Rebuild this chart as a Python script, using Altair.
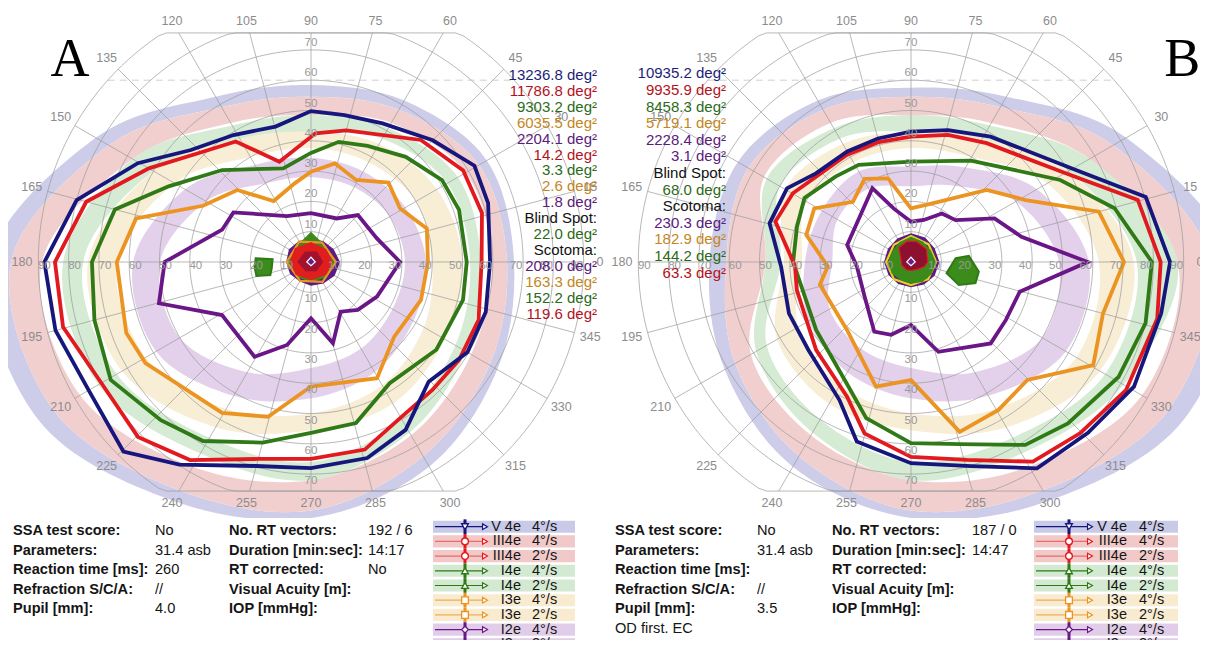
import altair as alt
import pandas as pd

FONT = "Liberation Sans"
SERIF = "Liberation Serif"
PX = 3.03                  # pixels per degree of eccentricity
CX, CY = 303.0, 254.0      # fixation point inside each polar view (px)
W_A, W_B = 600, 592
H_TOP, H_BOT = 510, 122
CLIP_Y = 75.6              # top/bottom edge of the perimeter grid (deg)
LAB_R, LAB_Y = 95.4, 79.5  # angle-label ring / clipped label height (deg)
YD = [-(H_TOP - CY) / PX, CY / PX]


def xdom(w):
    return [-CX / PX, (w - CX) / PX]


XD_A, XD_B = xdom(W_A), xdom(W_B)

NAVY, RED, GREEN, ORANGE, PURPLE = "#16167c", "#e2191e", "#2f7a16", "#eb9422", "#6a1686"
ISO_NAMES = ["I2e", "I3e", "I4e", "III4e", "V4e"]
ISO_COLORS = [PURPLE, ORANGE, GREEN, RED, NAVY]
T_NAVY, T_RED, T_GREEN, T_ORANGE, T_PURPLE, T_BLACK = (
    "#1e1e78", "#b3121b", "#2b6b18", "#c4861c", "#5b1c7b", "#111111")

BAND_NAMES = ["V4e", "III4e", "I4e", "I3e", "I2e"]
BAND_COLORS = ["#cdcdea", "#f2cfcf", "#d5ebd3", "#f8edd5", "#e3d1eb"]
BAND_ANG = [0, 30, 60, 90, 120, 150, 180, 210, 240, 270, 300, 330]

GRID_R = [10, 20, 30, 40, 50, 60, 70, 80, 90]
SPOKES = list(range(0, 360, 15))
ECC_H = [10, 20, 30, 40, 50, 60, 70, 80, 90]
ECC_V = [10, 20, 30, 40, 50, 60, 70]

# ---------------- panel A (left eye) ----------------
A_BAND_IN = {
    "V4e":   [64.7, 64, 58, 54.5, 59, 77, 99, 98, 87, 82, 74, 68],
    "III4e": [59.7, 59, 53, 48.5, 53, 68, 88.8, 88, 78, 72, 66, 61],
    "I4e":   [52.5, 52, 47, 43, 46, 60, 75.2, 74, 67, 66, 60, 55],
    "I3e":   [40, 40, 38, 37.6, 40, 52, 64, 63, 56, 50, 47, 43],
    "I2e":   [31, 30, 28.5, 28, 30, 40, 49.8, 50, 42, 35, 33, 31],
}
A_BAND_OUT = {
    "V4e":   [67, 67, 61.5, 58.4, 63, 82, 106, 104, 91, 84.5, 78, 71],
    "III4e": [64.7, 64, 58, 54.5, 59, 77, 99, 98, 87, 82, 74, 68],
    "I4e":   [56, 56, 51, 48.5, 52, 68, 81.8, 81, 73, 72, 65, 59],
    "I3e":   [50, 48, 45, 43, 47, 60, 73.6, 72, 63, 55.5, 54, 51],
    "I2e":   [38, 36, 34.5, 34.4, 37, 48, 58.7, 59, 51, 45, 42, 39],
}
A_ISO = {
    "V4e": ([0, 18.4, 30.5, 45, 62.7, 77.2, 90, 104.7, 121.4, 137, 150.3, 165.2, 180, 195, 210,
             225.3, 237, 255, 270, 286, 299.4, 314.5, 330, 344],
            [59.1, 61.6, 62.6, 56.8, 51.5, 49.7, 49.8, 46.2, 49.1, 54.2, 65.8, 80, 88, 87.3, 84.7,
             88, 79.7, 69.7, 68, 67.3, 63.6, 55.4, 59.6, 60]),
    "III4e": ([0, 16, 31, 48, 75, 88, 107.5, 122, 135.8, 150, 165, 180, 194.7, 210, 225.3, 238.6,
               255, 270, 286, 299, 313.5, 326.5, 341],
              [56.3, 58.7, 58.6, 54.2, 45, 42.5, 34.7, 46.9, 51.6, 61.8, 76.8, 84.5, 84.6, 79.9,
               81.2, 76.6, 67.3, 65, 64.4, 59.5, 58.2, 58.6, 58.5]),
    "I4e": ([0, 19.4, 32, 48, 64, 77, 90, 106.5, 134, 152, 165, 180, 195, 210.5, 226.5, 238.9,
             255, 270, 285.6, 303, 325, 346],
            [51.4, 51.8, 51, 46.7, 42.6, 40.7, 36, 32.2, 42.2, 53.2, 67, 72.3, 74, 76.7, 72, 69,
             61.7, 56.4, 55.2, 47.7, 50.5, 51.7]),
    "I3e": ([0, 16.2, 31, 45.7, 61.2, 76.4, 90, 101.7, 121.5, 135.7, 152.5, 166, 180, 201, 211.4,
             239.5, 254.5, 270, 299.6, 318, 341],
            [38.6, 39.8, 34.3, 36.6, 30.9, 33.5, 29.8, 26.5, 23.6, 34, 40.2, 59.5, 64.1, 65.3, 64,
             57.8, 53, 41.1, 44.1, 36.9, 38.4]),
    "I2e": ([0, 19.7, 45, 59.4, 90, 117.5, 147.4, 160, 180, 195.2, 210.8, 239.2, 253.9, 270,
             285.1, 300.8, 314.3, 332.3],
            [29.4, 23.1, 21.9, 16.7, 16.1, 17.1, 30.4, 31.2, 48.3, 52, 34.2, 36.4, 28.5, 18.6,
             27.8, 19.1, 22.1, 24.6]),
}
A_BLIND = ([176.2, 175.9, 188.7, 197.8, 194.3, 184.9], [18.3, 12.7, 13.1, 14.1, 18.6, 18.7])
A_CENTER = [
    ("#5c1a82", None, [0, 30, 60, 90, 120, 150, 180, 210, 240, 270, 300, 330],
     [9.6, 8.6, 8.0, 7.6, 8.0, 8.4, 8.2, 8.0, 7.4, 7.8, 8.2, 9.0]),
    ("#3b8a1c", None, [0, 45, 80, 90, 100, 135, 180, 225, 270, 315],
     [8.0, 7.2, 8.6, 10, 8.6, 7.2, 7.6, 7.0, 6.6, 7.2]),
    (None, ORANGE, [0, 60, 120, 180, 240, 300], [8.2, 7.4, 7.8, 8.0, 7.2, 7.6]),
    ("#e11d1d", None, [0, 40, 90, 140, 180, 220, 270, 320], [7.2, 6.6, 6.6, 7.0, 7.0, 6.6, 6.0, 6.6]),
    ("#a0122e", None, [0, 60, 120, 180, 240, 300], [4.0, 4.0, 4.0, 4.5, 3.5, 3.5]),
    ("#6a1a8a", "white", [0, 90, 180, 270], [1.4, 1.6, 1.4, 1.2]),
]
A_NOTES = ["13236.8 deg²", "11786.8 deg²", "9303.2 deg²", "6035.5 deg²", "2204.1 deg²",
           "14.2 deg²", "3.3 deg²", "2.6 deg²", "1.8 deg²", "Blind Spot:", "22.0 deg²",
           "Scotoma:", "208.0 deg²", "163.3 deg²", "152.2 deg²", "119.6 deg²"]
A_NOTE_COL = [T_NAVY, T_RED, T_GREEN, T_ORANGE, T_PURPLE, T_RED, T_GREEN, T_ORANGE, T_PURPLE,
              T_BLACK, T_GREEN, T_BLACK, T_PURPLE, T_ORANGE, T_GREEN, T_RED]

# ---------------- panel B (right eye) ----------------
B_BAND_IN = {
    "V4e":   [99, 77, 59, 54.5, 58, 62, 61, 67, 74, 82, 87, 98],
    "III4e": [88, 68, 53, 48.5, 53, 56, 48, 61, 66, 72, 78, 88],
    "I4e":   [74.5, 60, 46, 43, 47, 50, 43, 55, 60, 66, 67, 74],
    "I3e":   [62, 52, 40, 37.6, 38, 40, 36, 43, 47, 50, 56, 63],
    "I2e":   [48.8, 40, 29, 25, 28, 28, 26, 31, 33, 35, 42, 50],
}
B_BAND_OUT = {
    "V4e":   [106, 82, 63, 57.5, 61.5, 66, 66.5, 71, 78, 84.5, 91, 104],
    "III4e": [99, 77, 59, 54.5, 58, 62, 61, 67, 74, 82, 87, 98],
    "I4e":   [88, 68, 52, 48.5, 51, 55, 48, 59, 65, 72, 73, 81],
    "I3e":   [73.5, 60, 47, 43, 45, 48, 42, 51, 54, 55.5, 63, 72],
    "I2e":   [58.7, 48, 36, 31.5, 34.5, 34, 35, 39, 42, 45, 51, 59],
}
B_ISO = {
    "V4e": ([0, 15.5, 30, 57.6, 74.3, 90, 105, 120, 137, 149.3, 164.7, 182, 202.8, 220.6, 242.6,
             253.2, 270, 286.4, 301.4, 316, 330.8, 348.4],
            [85.5, 80.4, 61.6, 49, 45.2, 43, 42.2, 42.1, 42.9, 47.6, 48.4, 42.9, 43.7, 44.6, 51.3,
             61.9, 66.4, 70.2, 79.8, 81.2, 84.3, 84.3]),
    "III4e": ([0, 15.3, 30, 57.5, 73.8, 90, 105, 121, 149.8, 163.4, 182, 193.8, 222.8, 244.6,
               254.8, 270, 285.8, 301.4, 314.6, 329.2, 347],
              [82.4, 77.6, 58.7, 46.5, 43.7, 41.4, 41, 41.2, 45.1, 46.7, 38.3, 38.8, 42.7, 49.2,
               58.6, 64.3, 67.9, 77.2, 79.4, 82.6, 83.4]),
    "I4e": ([0, 14.8, 28.8, 59.4, 90, 118.3, 131.5, 149, 162.8, 180, 215.6, 242, 254, 270, 285,
             302, 314.2, 331, 345.4],
            [79.5, 69.5, 56.2, 38.9, 33.1, 36.4, 37.6, 41, 39.4, 38.9, 38.5, 45.3, 53.6, 59.8,
             62.2, 71.2, 74.3, 78.3, 80]),
    "I3e": ([0, 15, 28.4, 43.6, 70, 90, 105.4, 119.2, 134, 151, 165.5, 183, 194, 226.7, 254.3,
             270, 286, 300.6, 314.6, 330.5, 345],
            [70.3, 64.2, 43, 34.5, 20.6, 17.7, 28.6, 31.4, 27.6, 36.5, 35.7, 27.5, 31, 30.8, 42.7,
             39, 58.3, 56.7, 54.7, 69.1, 65.6]),
    "I2e": ([0, 12.9, 27.6, 43.2, 57.5, 73, 90, 108, 117.6, 165, 185, 216.8, 242.2, 254.8, 270,
             287, 314.4, 328.6, 344.7],
            [58.3, 37.4, 31.1, 20.2, 19, 14.5, 13.3, 18.6, 27.5, 21.8, 17.9, 19.1, 26, 24.9, 20.8,
             31, 37.6, 36.7, 37.2]),
}
B_BLIND = ([4.7, 6.0, 351.9, 341.8, 334.3, 342.5], [14.75, 19.2, 22.6, 22.4, 17.5, 12.3])
B_CENTER = [
    ("#5c1a82", None, [0, 30, 60, 90, 120, 150, 180, 210, 240, 270, 300, 330],
     [9.4, 9.0, 9.3, 9.5, 9.0, 8.8, 8.9, 8.6, 8.4, 8.3, 8.6, 9.0]),
    (None, "#e8d21e", [0, 45, 90, 135, 180, 225, 270, 315], [8.3, 8.2, 8.6, 8.0, 8.2, 8.0, 7.6, 8.0]),
    ("#3b8a1c", None, [0, 30, 60, 90, 120, 150, 180, 210, 240, 270, 300, 330],
     [8.2, 7.6, 7.8, 8.3, 7.6, 7.2, 7.6, 7.4, 7.0, 7.2, 7.6, 7.9]),
    ("#8e1030", RED, [0, 40, 75, 100, 130, 160, 200, 240, 270, 310, 340],
     [5.5, 6.6, 7.0, 7.0, 6.2, 3.6, 3.2, 3.0, 2.8, 3.2, 4.6]),
    ("#6a1a8a", "white", [0, 90, 180, 270], [1.4, 1.6, 1.4, 1.2]),
]
B_NOTES = ["10935.2 deg²", "9935.9 deg²", "8458.3 deg²", "5719.1 deg²", "2228.4 deg²",
           "3.1 deg²", "Blind Spot:", "68.0 deg²", "Scotoma:", "230.3 deg²", "182.9 deg²",
           "144.2 deg²", "63.3 deg²"]
B_NOTE_COL = [T_NAVY, T_RED, T_GREEN, T_ORANGE, T_PURPLE, T_PURPLE, T_BLACK, T_GREEN, T_BLACK,
              T_PURPLE, T_ORANGE, T_GREEN, T_RED]

# ---------------- tables & legend ----------------
LAB1 = ["SSA test score:", "Parameters:", "Reaction time [ms]:", "Refraction S/C/A:", "Pupil [mm]:"]
LAB2 = ["No. RT vectors:", "Duration [min:sec]:", "RT corrected:", "Visual Acuity [m]:", "IOP [mmHg]:"]
A_VAL1 = ["No", "31.4 asb", "260", "//", "4.0"]
A_VAL2 = ["192 / 6", "14:17", "No", "", ""]
B_VAL1 = ["No", "31.4 asb", "", "//", "3.5"]
B_VAL2 = ["187 / 0", "14:47", "", "", ""]
B_FOOT = ["OD first. EC"]

LEG_STIM = ["V 4e", "III4e", "III4e", "I4e", "I4e", "I3e", "I3e", "I2e", "I2e"]
LEG_SPEED = ["4°/s", "4°/s", "2°/s", "4°/s", "2°/s", "4°/s", "2°/s", "4°/s", "2°/s"]
LEG_COLOR = [NAVY, RED, RED, GREEN, GREEN, ORANGE, ORANGE, PURPLE, PURPLE]
LEG_LINE = [NAVY, "#ea6a6a", "#ea6a6a", GREEN, GREEN, "#efad55", "#efad55", PURPLE, PURPLE]
BG5 = ["#c9c9e8", "#f2c9c9", "#d3e9d1", "#f8ebd0", "#e1cdea"]
LEG_BG = [BG5[0], BG5[1], BG5[1], BG5[2], BG5[2], BG5[3], BG5[3], BG5[4], BG5[4]]
LEG_SHAPE = ["triangle-down", "circle", "circle", "triangle-up", "triangle-up", "square", "square",
             "diamond", "diamond"]

XCALC = "datum.r * cos(datum.a * PI / 180)"
YCALC = "datum.r * sin(datum.a * PI / 180)"


def xy(xd, xf="x", yf="y"):
    return dict(
        x=alt.X(f"{xf}:Q", scale=alt.Scale(domain=xd, nice=False, zero=False), axis=None),
        y=alt.Y(f"{yf}:Q", scale=alt.Scale(domain=YD, nice=False, zero=False), axis=None),
    )


def polar(df, ycalc=YCALC):
    return alt.Chart(df).transform_calculate(x=XCALC, y=ycalc)


def polygon(a, r, xd, fill=None, stroke=None, sw=1.5, interp="linear-closed"):
    df = pd.DataFrame({"a": a, "r": r, "o": list(range(len(a)))})
    kw = {"interpolate": interp, "clip": True}
    if fill is not None:
        kw["filled"] = True
        kw["fill"] = fill
        if stroke is not None:
            kw["stroke"] = stroke
            kw["strokeWidth"] = sw
        else:
            kw["strokeWidth"] = 0
    else:
        kw["stroke"] = stroke
        kw["strokeWidth"] = sw
    return polar(df).mark_line(**kw).encode(**xy(xd), order="o:Q")


def polar_panel(w, xd, band_in, band_out, iso, blind, center, notes, note_cols,
                note_x, note_y0, note_step, letter, letter_xy):
    layers = []
    # normal-range bands (painter's order, outer -> inner)
    for name, col in zip(BAND_NAMES, BAND_COLORS):
        layers.append(polygon(BAND_ANG, band_out[name], xd, fill=col, interp="cardinal-closed"))
        layers.append(polygon(BAND_ANG, band_in[name], xd, fill="white", interp="cardinal-closed"))
    # grid circles, clipped to the grid's top/bottom edge
    circ = pd.DataFrame([{"r": r, "a": a} for r in GRID_R for a in range(0, 361, 2)])
    layers.append(
        polar(circ, ycalc=f"clamp({YCALC}, {-CLIP_Y}, {CLIP_Y})")
        .mark_line(stroke="#9a9a9a", strokeWidth=0.7, clip=True)
        .encode(**xy(xd), detail="r:N", order="a:Q"))
    # spokes every 15 degrees
    sp = pd.DataFrame({"a": SPOKES})
    layers.append(
        alt.Chart(sp).transform_calculate(
            re=f"min(90, {CLIP_Y} / max(abs(sin(datum.a * PI / 180)), 0.000001))",
            x0="0", y0="0").transform_calculate(
            x2="datum.re * cos(datum.a * PI / 180)", y2="datum.re * sin(datum.a * PI / 180)")
        .mark_rule(stroke="#9a9a9a", strokeWidth=0.7, clip=True)
        .encode(**xy(xd, "x0", "y0"), x2="x2:Q", y2="y2:Q"))
    # faint dashed chord at 60 deg superior
    ch = pd.DataFrame({"r": [90], "h": [60]})
    layers.append(
        alt.Chart(ch).transform_calculate(
            xa="-sqrt(datum.r * datum.r - datum.h * datum.h)",
            xb="sqrt(datum.r * datum.r - datum.h * datum.h)", yh="datum.h")
        .mark_rule(stroke="#c4c4c4", strokeWidth=0.8, strokeDash=[7, 5], clip=True)
        .encode(**xy(xd, "xa", "yh"), x2="xb:Q"))
    # isopters
    rows = []
    for name in ISO_NAMES:
        a, r = iso[name]
        rows += [{"iso": name, "a": aa, "r": rr, "o": i} for i, (aa, rr) in enumerate(zip(a, r))]
    layers.append(
        polar(pd.DataFrame(rows))
        .mark_line(interpolate="linear-closed", strokeWidth=3.8, clip=True)
        .encode(**xy(xd), order="o:Q", detail="iso:N",
                color=alt.Color("iso:N", scale=alt.Scale(domain=ISO_NAMES, range=ISO_COLORS), legend=None)))
    # blind spot
    layers.append(polygon(blind[0], blind[1], xd, fill="#3c8c1c", stroke="#2f7a16", sw=2))
    # central scotoma patches
    for fill, stroke, a, r in center:
        layers.append(polygon(a, r, xd, fill=fill, stroke=stroke, sw=2.2 if fill is None else 1.2))
    # angle labels
    al = pd.DataFrame({"a": SPOKES})
    layers.append(
        alt.Chart(al).transform_calculate(
            r=f"min({LAB_R}, {LAB_Y} / max(abs(sin(datum.a * PI / 180)), 0.000001))")
        .transform_calculate(x=XCALC, y=YCALC)
        .mark_text(font=FONT, fontSize=12.5, color="#8c8c8c", baseline="middle", clip=True)
        .encode(**xy(xd), text=alt.Text("a:Q", format="d")))
    # eccentricity labels
    for ang, dx, dy, vals in [(180, 6, 4, ECC_H), (0, -7, 4, ECC_H), (90, 0, -7, ECC_V), (270, 0, 7, ECC_V)]:
        el = pd.DataFrame({"a": [ang] * len(vals), "r": vals})
        layers.append(
            polar(el).mark_text(font=FONT, fontSize=11.5, color="#999999", baseline="middle",
                                dx=dx, dy=dy, clip=True)
            .encode(**xy(xd), text=alt.Text("r:Q", format="d")))
    # area annotations
    nt = pd.DataFrame({"t": notes, "c": note_cols, "row": list(range(len(notes)))})
    layers.append(
        alt.Chart(nt).transform_calculate(
            x=f"{note_x}", y=f"{note_y0} - datum.row * {note_step}")
        .mark_text(font=FONT, fontSize=15, align="right", baseline="middle", clip=True)
        .encode(**xy(xd), text="t:N", color=alt.Color("c:N", scale=None)))
    # panel letter
    lt = pd.DataFrame({"t": [letter], "x": [letter_xy[0]], "y": [letter_xy[1]]})
    layers.append(
        alt.Chart(lt).mark_text(font=SERIF, fontSize=54, color="#000000", baseline="middle", clip=True)
        .encode(**xy(xd), text="t:N"))
    return alt.layer(*layers).properties(width=w, height=H_TOP)


TROW = alt.Scale(domain=[-13 / 19.5, (H_BOT - 13) / 19.5], reverse=True, nice=False, zero=False)
LROW = alt.Scale(domain=[-8.7 / 14.7, (H_BOT - 8.7) / 14.7], reverse=True, nice=False, zero=False)


def tcol(texts, width, dx=0, bold=False, start=0):
    df = pd.DataFrame({"row": list(range(start, start + len(texts))), "t": texts})
    return (alt.Chart(df)
            .mark_text(align="left", baseline="middle", font=FONT, fontSize=14.6,
                       fontWeight="bold" if bold else "normal", color="#151515", dx=dx, clip=True)
            .encode(x=alt.value(0), y=alt.Y("row:Q", scale=TROW, axis=None), text="t:N")
            .properties(width=width, height=H_BOT))


def legend(width, mk, arr, stim_x, speed_x, box_w):
    df = pd.DataFrame({"row": list(range(9)), "stim": LEG_STIM, "speed": LEG_SPEED, "c": LEG_COLOR,
                       "lc": LEG_LINE, "bg": LEG_BG, "shape": LEG_SHAPE})
    base = alt.Chart(df).transform_calculate(
        y0="datum.row - 0.41", y1="datum.row + 0.41", ya="datum.row - 0.5", yb="datum.row + 0.5")
    Y = alt.Y("row:Q", scale=LROW, axis=None)
    box = base.mark_rect(clip=True).encode(
        x=alt.value(0), x2=alt.value(box_w), y=alt.Y("y0:Q", scale=LROW, axis=None), y2="y1:Q",
        color=alt.Color("bg:N", scale=None))
    line = base.mark_rule(strokeWidth=1.2, clip=True).encode(
        x=alt.value(2), x2=alt.value(arr - 3), y=Y, color=alt.Color("lc:N", scale=None))
    tick = base.mark_rule(strokeWidth=3, clip=True).encode(
        x=alt.value(mk), y=alt.Y("ya:Q", scale=LROW, axis=None), y2="yb:Q",
        color=alt.Color("c:N", scale=None))
    mark = base.mark_point(fill="white", fillOpacity=1, opacity=1, size=46, strokeWidth=1.3, clip=True).encode(
        x=alt.value(mk), y=Y, color=alt.Color("c:N", scale=None), shape=alt.Shape("shape:N", scale=None))
    arrow = base.mark_point(shape="triangle-right", fill="white", fillOpacity=1, opacity=1, size=32,
                            strokeWidth=1.2, clip=True).encode(
        x=alt.value(arr), y=Y, color=alt.Color("c:N", scale=None))
    stim = base.mark_text(align="right", baseline="middle", font=FONT, fontSize=14.5, color="#151515",
                          clip=True).encode(x=alt.value(stim_x), y=Y, text="stim:N")
    speed = base.mark_text(align="left", baseline="middle", font=FONT, fontSize=14.5, color="#151515",
                           clip=True).encode(x=alt.value(speed_x), y=Y, text="speed:N")
    return alt.layer(box, line, tick, mark, arrow, stim, speed).properties(width=width, height=H_BOT)


polarA = polar_panel(W_A, XD_A, A_BAND_IN, A_BAND_OUT, A_ISO, A_BLIND, A_CENTER, A_NOTES, A_NOTE_COL,
                     (597 - 311) / PX, (262 - 75) / PX, 15.9 / PX, "A", (-79.5, 66.7))
polarB = polar_panel(W_B, XD_B, B_BAND_IN, B_BAND_OUT, B_ISO, B_BLIND, B_CENTER, B_NOTES, B_NOTE_COL,
                     (726 - 911) / PX, (262 - 73.3) / PX, 16.6 / PX, "B", (89.5, 66.7))

bottomA = alt.hconcat(
    tcol(LAB1, 147, dx=5, bold=True), tcol(A_VAL1, 74), tcol(LAB2, 139, bold=True), tcol(A_VAL2, 65),
    legend(175, 32, 52, 88, 99, 142), spacing=0)
bottomB = alt.hconcat(
    alt.layer(tcol(LAB1, 149, dx=7, bold=True), tcol(B_FOOT, 149, dx=7, start=5)),
    tcol(B_VAL1, 75), tcol(LAB2, 140, bold=True), tcol(B_VAL2, 62),
    legend(166, 35, 56, 93, 105, 144), spacing=0)

colA = alt.vconcat(polarA, bottomA, spacing=0)
colB = alt.vconcat(polarB, bottomB, spacing=0)

chart = (alt.hconcat(colA, colB, spacing=0)
         .properties(padding=0, background="white")
         .configure_view(stroke=None))

chart.save("out.html", embed_options={"renderer": "svg", "actions": False})
